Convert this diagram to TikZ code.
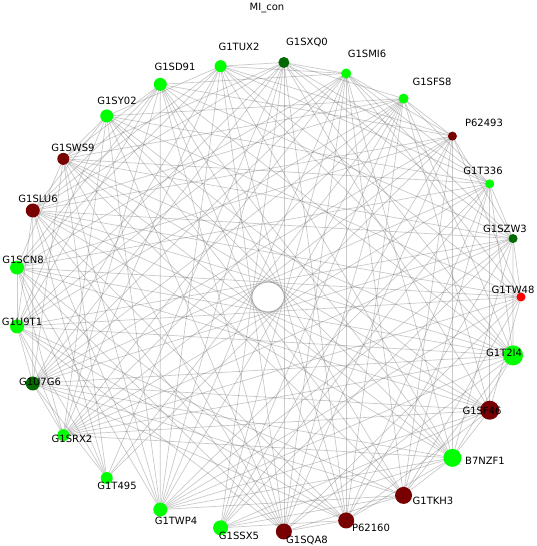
\documentclass[tikz,border=0pt]{standalone}
\usepackage{fontspec}
\setmainfont{DejaVu Sans}
\pgfdeclarelayer{bg}
\pgfsetlayers{bg,main}
\definecolor{cLime}{RGB}{0,255,0}
\definecolor{cDG}{RGB}{0,105,0}
\definecolor{cMar}{RGB}{120,0,0}
\definecolor{cRed}{RGB}{255,0,0}
\begin{document}
\begin{tikzpicture}[x=1pt,y=1pt,
  edge/.style={draw=black!60, opacity=0.35, line width=0.7pt},
  vtx/.style={circle, inner sep=0pt, draw=none},
  lbl/.style={font=\fontsize{10}{12}\selectfont, inner sep=0pt, text height=7.3pt, text depth=0pt, anchor=center}]
\useasboundingbox (0,0) rectangle (536,546);
% vertices
\foreach \k/\r/\col in {0/5.5/cDG,1/6/cLime,2/6.5/cLime,3/6.5/cLime,4/6/cMar,5/7/cMar,6/7/cLime,7/7/cLime,8/7/cDG,9/6/cLime,10/6/cLime,11/7/cLime,12/7.5/cLime,13/8/cMar,14/8/cMar,15/8.5/cMar,16/9/cLime,17/9.5/cMar,18/10/cLime,19/4.5/cRed,20/4.5/cDG,21/4.5/cLime,22/4.5/cMar,23/5/cLime,24/5/cLime}{
  \pgfmathsetmacro\ang{86.4+14.4*\k}
  \pgfmathsetmacro\dd{2*\r}
  \node[vtx, minimum size=\dd pt, fill=\col] (n\k) at ({268+253*cos(\ang)},{249+235*sin(\ang)}) {};
}
% edges
\begin{pgfonlayer}{bg}
\foreach \i in {0,...,23}{
  \pgfmathtruncatemacro\nxt{\i+1}
  \foreach \j in {\nxt,...,24}{
    \pgfmathtruncatemacro\h{mod(\i*17+\j*31+\i*\j*7,100)}
    \pgfmathtruncatemacro\s{\j-\i}
    \pgfmathtruncatemacro\f{(\h<60)||(\s==12)||(\s==13)}
    \ifnum\f=1 \draw[edge] (n\i.center) -- (n\j.center);\fi
  }
}
\end{pgfonlayer}
% labels
\foreach \k/\t/\lx/\ly in {0/G1SXQ0/307/42,1/G1TUX2/239/47,2/G1SD91/175/67,3/G1SY02/117/101,4/G1SWS9/73/148,5/G1SLU6/38/199,6/G1SCN8/23/260,7/G1U9T1/22/322,8/G1U7G6/40/382,9/G1SRX2/72/439,10/G1T495/117/486,11/G1TWP4/176/521,12/G1SSX5/239/536,13/G1SQA8/307/540,14/P62160/371/528,15/G1TKH3/433/501,16/B7NZF1/485/461,17/G1SF46/482/411,18/G1T2I4/504/353,19/G1TW48/513/290,20/G1SZW3/505/229,21/G1T336/483/171,22/P62493/484/123,23/G1SFS8/432/82,24/G1SMI6/367/54}{
  \node[lbl] (l\k) at (\lx,{546-\ly}) {\t};
}
\node[lbl] (title) at (267,{546-6.5}) {MI\_con};
\end{tikzpicture}
\end{document}
